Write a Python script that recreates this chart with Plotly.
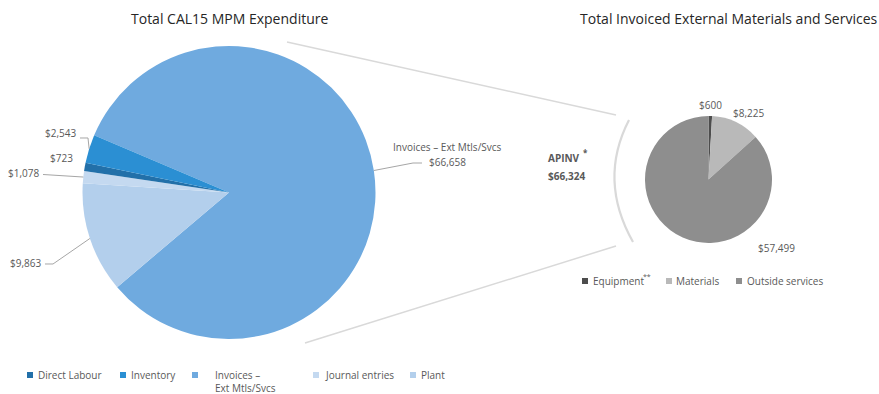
import math
import plotly.graph_objects as go

W, H = 879, 394
FONT = "Open Sans"
TEXT_GREY = "#595959"

# Total CAL15 MPM expenditure by source
exp_categories = ["Direct Labour", "Inventory", "Invoices – Ext Mtls/Svcs", "Journal entries", "Plant"]
exp_values = [723, 2543, 66658, 1078, 9863]

# Invoiced external materials and services (APINV) breakdown
inv_categories = ["Equipment", "Materials", "Outside services"]
inv_values = [600, 8225, 57499]
apinv_total = 66324

exp_colors = ["#2270a9", "#2b8fd3", "#6faadf", "#c4d9f0", "#b3cfec"]
inv_colors = ["#4d4d4d", "#b9b9b9", "#8e8e8e"]

# slice order around the left pie, clockwise from its first edge
exp_draw_order = [2, 4, 3, 0, 1]

# pie geometry in pixels (centre x, centre y, radius) and start rotation
LEFT = dict(cx=229, cy=192.5, r=146.5, rot=-67)
RIGHT = dict(cx=708.5, cy=179.5, r=63.5, rot=0)


def px(x):
    return x / W


def py(y):
    return 1 - y / H


def domain(g):
    return dict(x=[px(g["cx"] - g["r"]), px(g["cx"] + g["r"])],
                y=[py(g["cy"] + g["r"]), py(g["cy"] - g["r"])])


def edge_points(values, g):
    """Point on the rim at the middle of each slice (clockwise pie)."""
    total = sum(values)
    pts, start = [], g["rot"]
    for v in values:
        span = 360 * v / total
        a = math.radians(start + span / 2)
        pts.append((g["cx"] + g["r"] * math.sin(a), g["cy"] - g["r"] * math.cos(a)))
        start += span
    return pts


def money(v):
    return f"${v:,}"


fig = go.Figure()

left_vals = [exp_values[i] for i in exp_draw_order]
fig.add_trace(go.Pie(
    labels=[exp_categories[i] for i in exp_draw_order],
    values=left_vals,
    marker=dict(colors=[exp_colors[i] for i in exp_draw_order], line=dict(width=0)),
    sort=False, direction="clockwise", rotation=LEFT["rot"],
    textinfo="none", hoverinfo="label+value", showlegend=False,
    domain=domain(LEFT),
))
fig.add_trace(go.Pie(
    labels=inv_categories, values=inv_values,
    marker=dict(colors=inv_colors, line=dict(width=0)),
    sort=False, direction="clockwise", rotation=RIGHT["rot"],
    textinfo="none", hoverinfo="label+value", showlegend=False,
    domain=domain(RIGHT),
))

shapes, annotations = [], []


def text(x, y, s, size=10, anchor="center", color=TEXT_GREY, bold=False):
    annotations.append(dict(
        x=px(x), y=py(y), xref="paper", yref="paper", text=s, showarrow=False,
        xanchor=anchor, yanchor="middle",
        font=dict(family=FONT, size=size, color=color,
                  weight="bold" if bold else "normal"),
    ))


def polyline(points, color="#a6a6a6", width=1):
    d = "M " + " L ".join(f"{px(x):.5f},{py(y):.5f}" for x, y in points)
    shapes.append(dict(type="path", path=d, xref="paper", yref="paper",
                       line=dict(color=color, width=width)))


# titles
text(229, 18, "Total CAL15 MPM Expenditure", size=14, color="#262626")
text(729, 18, "Total Invoiced External Materials and Services", size=14, color="#262626")

# left pie data labels with leader lines
left_edges = dict(zip(exp_draw_order, edge_points(left_vals, LEFT)))
lab = {c: i for i, c in enumerate(exp_categories)}

i = lab["Inventory"]
text(78, 133, money(exp_values[i]), anchor="right")
polyline([(80, 138), (88, 138), left_edges[i]])

i = lab["Direct Labour"]
text(61, 158, money(exp_values[i]))

i = lab["Journal entries"]
text(41, 173, money(exp_values[i]), anchor="right")
polyline([(43, 174.5), left_edges[i]])

i = lab["Plant"]
text(43, 263, money(exp_values[i]), anchor="right")
polyline([(45, 264), (53, 264), left_edges[i]])

i = lab["Invoices – Ext Mtls/Svcs"]
text(447, 147, exp_categories[i])
text(447, 162, money(exp_values[i]))
polyline([(422, 163), (413, 163), left_edges[i]])

# right pie data labels
text(710, 105, money(inv_values[0]))
text(748, 113, money(inv_values[1]))
text(776, 248, money(inv_values[2]))

# APINV total
text(546, 158, "APINV", anchor="left", bold=True)
text(581, 152, "*", size=8, anchor="left", bold=True)
text(546, 176, money(apinv_total), anchor="left", bold=True)

# connector lines and bracket between the two pies
CONNECT = "#d9d9d9"
polyline([(287, 42), (616, 115)], color=CONNECT, width=1.5)
polyline([(305, 343), (616, 246)], color=CONNECT, width=1.5)
shapes.append(dict(
    type="path", xref="paper", yref="paper",
    path=f"M {px(629):.5f},{py(120):.5f} Q {px(598):.5f},{py(180):.5f} {px(633):.5f},{py(242):.5f}",
    line=dict(color=CONNECT, width=2.2),
))


# legends
def swatch(x, y, color):
    shapes.append(dict(type="rect", xref="paper", yref="paper",
                       x0=px(x), x1=px(x + 6), y0=py(y + 3), y1=py(y - 3),
                       fillcolor=color, line=dict(width=0)))


left_legend_x = [(27, 36), (120, 129), (192, 213), (313, 323), (410, 419)]
for k, (mx, tx) in enumerate(left_legend_x):
    swatch(mx, 375, exp_colors[k])
    if k == lab["Invoices – Ext Mtls/Svcs"]:
        text(tx, 375, "Invoices –", anchor="left")
        text(tx, 388, "Ext Mtls/Svcs", anchor="left")
    else:
        text(tx, 375, exp_categories[k], anchor="left")

right_legend_x = [(582, 591), (666, 674), (736, 745)]
for k, (mx, tx) in enumerate(right_legend_x):
    swatch(mx, 281, inv_colors[k])
    text(tx, 281, inv_categories[k], anchor="left")
text(641, 276, "**", size=7, anchor="left")

fig.update_layout(
    width=W, height=H, margin=dict(l=0, r=0, t=0, b=0),
    paper_bgcolor="white", plot_bgcolor="white",
    shapes=shapes, annotations=annotations,
    font=dict(family=FONT, color=TEXT_GREY),
)

fig.write_html("out.html")
